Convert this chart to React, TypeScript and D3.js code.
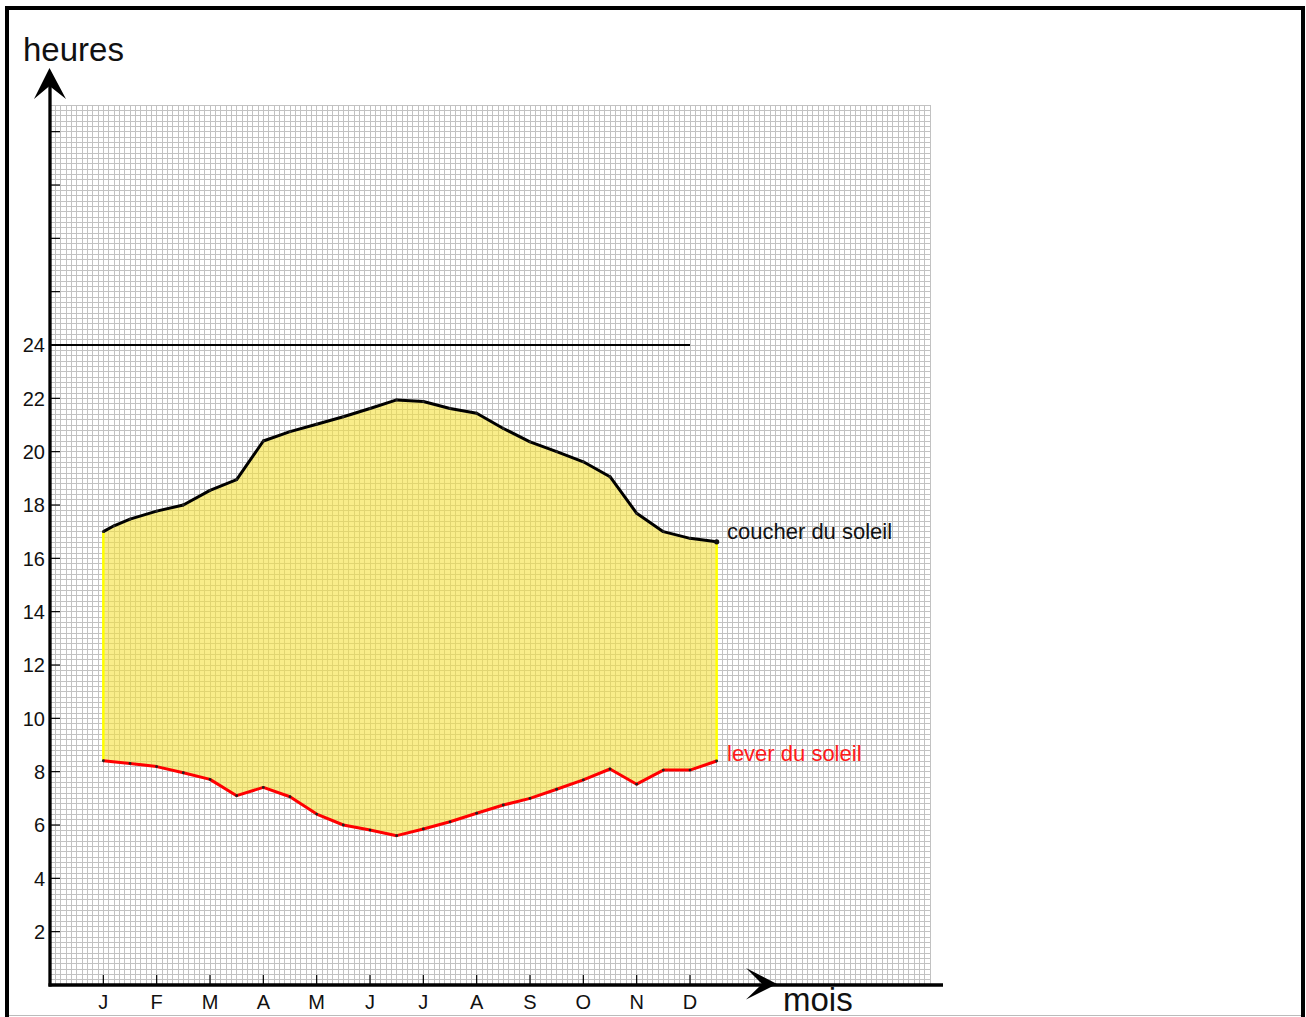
import { useEffect, useRef } from "react";
import * as d3 from "d3";

// month positions: 1 = J (janvier), 1st and 15th of each month
const monthLabels = ["J", "F", "M", "A", "M", "J", "J", "A", "S", "O", "N", "D"];
const monthTicks = [1, 2, 3, 4, 5, 6, 7, 8, 9, 10, 11, 12];

const coucherX = [1, 1.2, 1.5, 2, 2.5, 3, 3.5, 4, 4.5, 5, 5.5, 6, 6.5, 7, 7.5, 8, 8.5, 9, 9.5, 10, 10.5, 11, 11.5, 12, 12.5];
const coucherH = [17.0, 17.22, 17.47, 17.77, 18.0, 18.55, 18.95, 20.4, 20.75, 21.03, 21.31, 21.62, 21.94, 21.88, 21.62, 21.44, 20.87, 20.37, 20.0, 19.62, 19.06, 17.69, 17.0, 16.75, 16.62];

const leverX = [1, 1.5, 2, 2.5, 3, 3.5, 4, 4.5, 5, 5.5, 6, 6.5, 7, 7.5, 8, 8.5, 9, 9.5, 10, 10.5, 11, 11.5, 12, 12.5];
const leverH = [8.41, 8.31, 8.19, 7.96, 7.71, 7.1, 7.41, 7.06, 6.41, 6.0, 5.81, 5.6, 5.85, 6.12, 6.44, 6.75, 7.0, 7.34, 7.69, 8.1, 7.53, 8.06, 8.06, 8.4];

const hourLabels = [2, 4, 6, 8, 10, 12, 14, 16, 18, 20, 22, 24];
const hourTicks = [2, 4, 6, 8, 10, 12, 14, 16, 18, 20, 22, 24, 26, 28, 30, 32];

export default function App() {
  const ref = useRef<SVGSVGElement>(null);

  useEffect(() => {
    const svg = d3.select(ref.current);
    svg.selectAll("*").remove();

    const width = 1306;
    const height = 1017;
    const font = "'Liberation Sans', Arial, Helvetica, sans-serif";

    const x = d3.scaleLinear().domain([0, 16.5]).range([50, 930]);
    const y = d3.scaleLinear().domain([0, 33]).range([985, 105]);

    svg.attr("width", width).attr("height", height);

    // frame
    svg.append("rect")
      .attr("x", 7).attr("y", 8)
      .attr("width", 1296).attr("height", 1030)
      .attr("fill", "#fff")
      .attr("stroke", "#000")
      .attr("stroke-width", 4);
    svg.append("line")
      .attr("x1", 9).attr("x2", 1301)
      .attr("y1", 1015.5).attr("y2", 1015.5)
      .attr("stroke", "#bbb");

    // millimetre grid
    const grid = svg.append("g").attr("stroke", "#c2c2c2").attr("stroke-width", 1).attr("shape-rendering", "crispEdges");
    grid.selectAll("line.v")
      .data(d3.range(0, 165 + 1).map(i => i / 10))
      .join("line")
      .attr("x1", d => x(d)).attr("x2", d => x(d))
      .attr("y1", y(33)).attr("y2", y(0));
    grid.selectAll("line.h")
      .data(d3.range(0, 165 + 1).map(i => i / 5))
      .join("line")
      .attr("class", "h")
      .attr("x1", x(0)).attr("x2", x(16.5))
      .attr("y1", d => y(d)).attr("y2", d => y(d));

    // yellow band between sunrise and sunset
    const upper = coucherX.map((m, i) => [x(m), y(coucherH[i])] as [number, number]);
    const lower = leverX.map((m, i) => [x(m), y(leverH[i])] as [number, number]);
    svg.append("path")
      .attr("d", d3.line()([...upper, ...lower.slice().reverse()]) + "Z")
      .attr("fill", "rgb(245,225,60)")
      .attr("fill-opacity", 0.6);

    // yellow edges
    [[coucherX[0], coucherH[0], leverH[0]], [coucherX[coucherX.length - 1], coucherH[coucherH.length - 1], leverH[leverH.length - 1]]]
      .forEach(([m, a, b]) => {
        svg.append("line")
          .attr("x1", x(m)).attr("x2", x(m))
          .attr("y1", y(a)).attr("y2", y(b))
          .attr("stroke", "#ffff00").attr("stroke-width", 2.5);
      });

    // 24h line
    svg.append("line")
      .attr("x1", x(0)).attr("x2", x(12))
      .attr("y1", y(24)).attr("y2", y(24))
      .attr("stroke", "#000").attr("stroke-width", 2);

    // curves
    svg.append("path")
      .attr("d", d3.line()(upper))
      .attr("fill", "none").attr("stroke", "#000").attr("stroke-width", 3)
      .attr("stroke-linejoin", "round");
    svg.append("path")
      .attr("d", d3.line()(lower))
      .attr("fill", "none").attr("stroke", "#ff0000").attr("stroke-width", 3)
      .attr("stroke-linejoin", "round");

    svg.selectAll("circle.pt")
      .data([...upper, ...lower])
      .join("circle")
      .attr("cx", d => d[0]).attr("cy", d => d[1])
      .attr("r", 1.4).attr("fill", "#222");
    svg.append("circle")
      .attr("cx", upper[upper.length - 1][0]).attr("cy", upper[upper.length - 1][1])
      .attr("r", 2.6).attr("fill", "#111");

    // axes
    svg.append("line")
      .attr("x1", 50).attr("x2", 50)
      .attr("y1", 80).attr("y2", 986.5)
      .attr("stroke", "#000").attr("stroke-width", 3.3);
    svg.append("line")
      .attr("x1", 48.5).attr("x2", 943)
      .attr("y1", 985).attr("y2", 985)
      .attr("stroke", "#000").attr("stroke-width", 3.3);

    svg.append("path")
      .attr("d", "M49.5,68 L66,99 L49.5,86 L34,99 Z")
      .attr("fill", "#000");
    svg.append("path")
      .attr("d", "M777,984 L746,968 L762,984 L746,999.5 Z")
      .attr("fill", "#000");

    // y ticks
    svg.selectAll("line.yt")
      .data(hourTicks)
      .join("line")
      .attr("x1", 50).attr("x2", 60)
      .attr("y1", d => y(d)).attr("y2", d => y(d))
      .attr("stroke", "#000").attr("stroke-width", 1.2);
    svg.selectAll("text.yl")
      .data(hourLabels)
      .join("text")
      .attr("x", 45)
      .attr("y", d => y(d))
      .attr("dy", "0.36em")
      .attr("text-anchor", "end")
      .attr("font-family", font)
      .attr("font-size", 20)
      .attr("fill", "#111")
      .text(d => d);

    // x ticks
    svg.selectAll("line.xt")
      .data(monthTicks)
      .join("line")
      .attr("x1", d => x(d)).attr("x2", d => x(d))
      .attr("y1", 975).attr("y2", 985)
      .attr("stroke", "#000").attr("stroke-width", 1.2);
    svg.selectAll("text.xl")
      .data(monthTicks)
      .join("text")
      .attr("x", d => x(d))
      .attr("y", 1009)
      .attr("text-anchor", "middle")
      .attr("font-family", font)
      .attr("font-size", 20)
      .attr("fill", "#111")
      .text((d, i) => monthLabels[i]);

    // titles
    svg.append("text")
      .attr("x", 23).attr("y", 61)
      .attr("font-family", font).attr("font-size", 33).attr("fill", "#111")
      .text("heures");
    svg.append("text")
      .attr("x", 783).attr("y", 1011)
      .attr("font-family", font).attr("font-size", 33).attr("fill", "#111")
      .text("mois");

    svg.append("text")
      .attr("x", 727).attr("y", 539)
      .attr("font-family", font).attr("font-size", 22).attr("fill", "#111")
      .text("coucher du soleil");
    svg.append("text")
      .attr("x", 727).attr("y", 761)
      .attr("font-family", font).attr("font-size", 22).attr("fill", "#ff1a1a")
      .text("lever du soleil");
  }, []);

  return <svg ref={ref} style={{ position: "absolute", left: 0, top: 0, display: "block" }}></svg>;
}
